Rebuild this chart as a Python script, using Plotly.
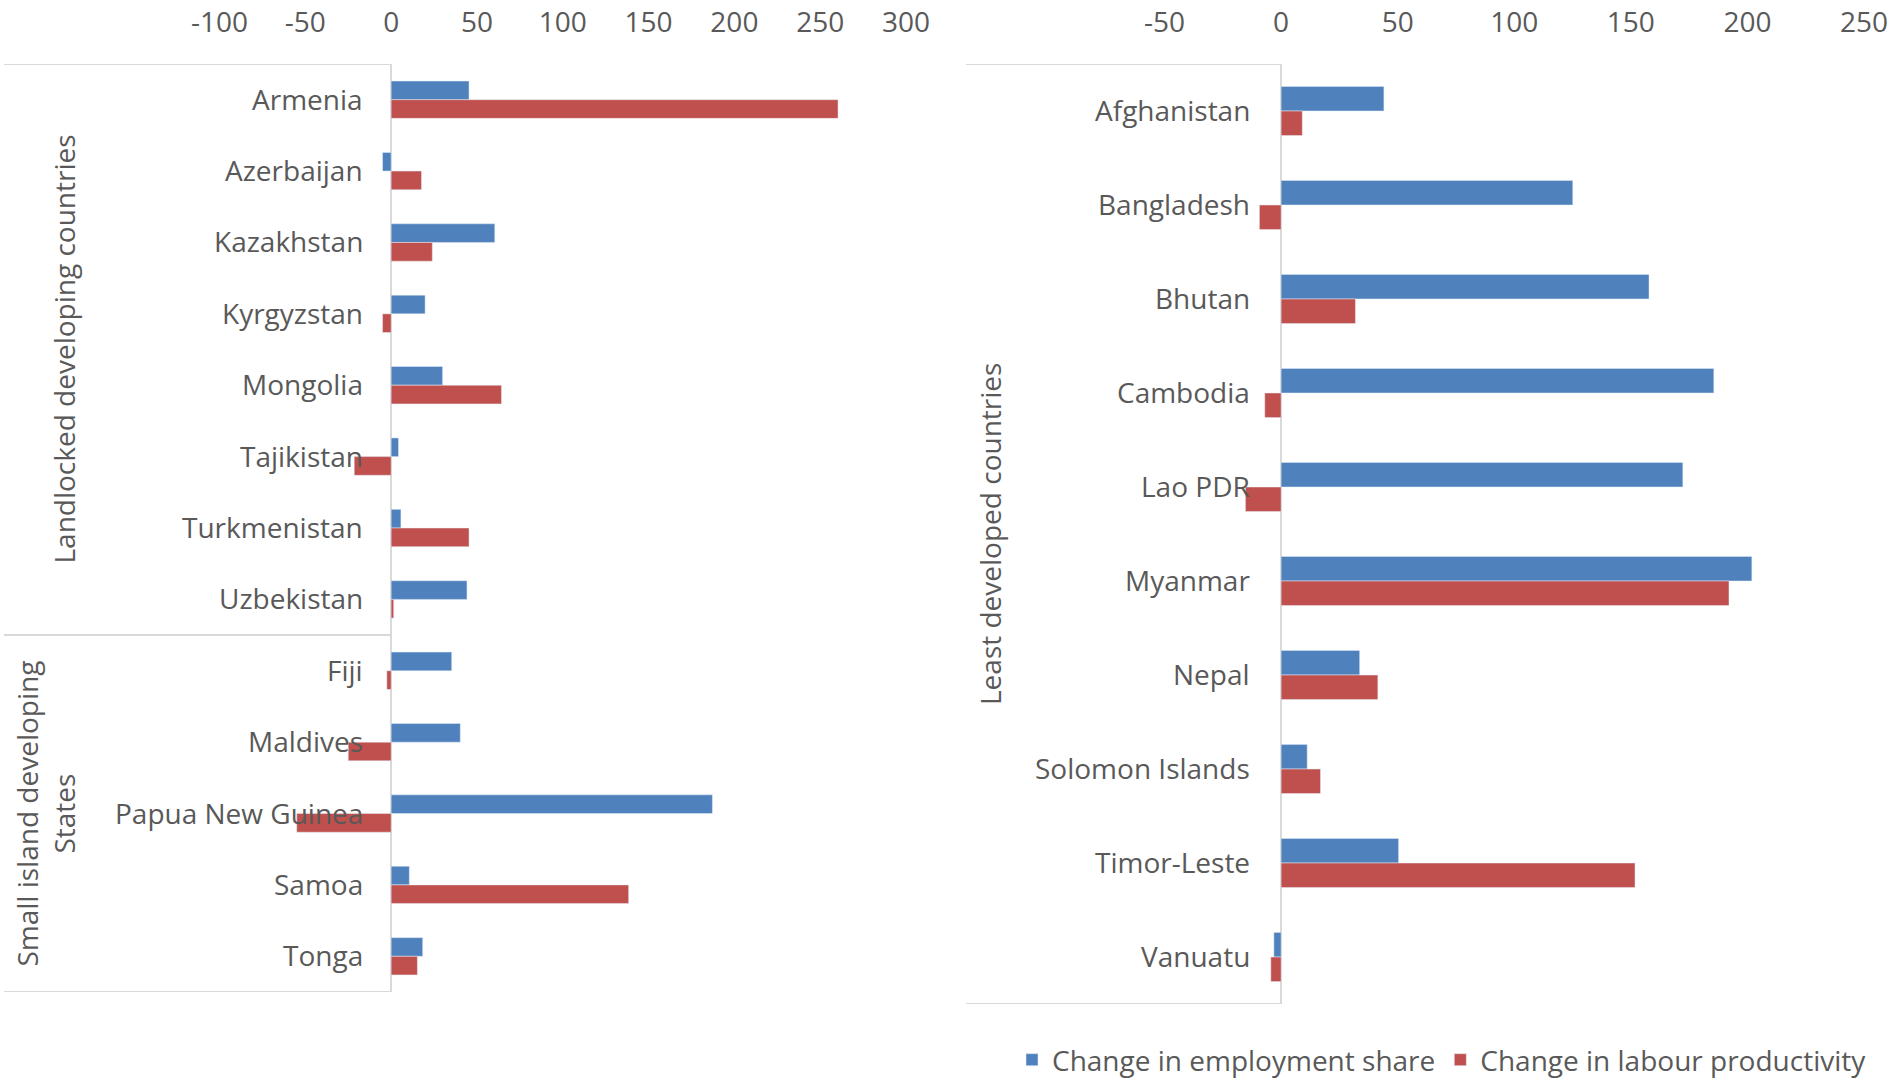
import plotly.graph_objects as go

# Landlocked developing countries and small island developing States
landlocked = ["Armenia", "Azerbaijan", "Kazakhstan", "Kyrgyzstan", "Mongolia",
              "Tajikistan", "Turkmenistan", "Uzbekistan"]
sids = ["Fiji", "Maldives", "Papua New Guinea", "Samoa", "Tonga"]
left_countries = landlocked + sids
left_employment = [45.4, -5.0, 60.4, 19.8, 30.0, 4.3, 5.7, 44.2,
                   35.3, 40.3, 187.2, 10.6, 18.4]
left_productivity = [260.4, 17.7, 24.0, -5.0, 64.3, -21.5, 45.4, 1.5,
                     -2.5, -25.0, -55.0, 138.4, 15.3]

# Least developed countries
ldc = ["Afghanistan", "Bangladesh", "Bhutan", "Cambodia", "Lao PDR", "Myanmar",
       "Nepal", "Solomon Islands", "Timor-Leste", "Vanuatu"]
ldc_employment = [44.1, 125.1, 157.8, 185.6, 172.3, 201.9, 33.7, 11.2, 50.4, -3.1]
ldc_productivity = [9.1, -9.3, 31.9, -7.0, -15.3, 192.1, 41.5, 16.9, 151.8, -4.4]

left_ticks = [-100, -50, 0, 50, 100, 150, 200, 250, 300]
left_tick_labels = ["-100", "-50", "0", "50", "100", "150", "200", "250", "300"]
right_ticks = [-50, 0, 50, 100, 150, 200, 250]
right_tick_labels = ["-50", "0", "50", "100", "150", "200", "250"]

series_names = ["Change in employment share", "Change in labour productivity"]
BLUE = "#4F81BD"
RED = "#C0504D"
TEXT = "#595959"
LINE = "#D9D9D9"
FONT = "Open Sans"

W, H = 1901, 1081
left_dom = [219.5 / W, 906 / W]
right_dom = [1164.5 / W, 1864 / W]
left_ydom = [1 - 992 / H, 1 - 64 / H]
right_ydom = [1 - 1004 / H, 1 - 64 / H]
left_range = [-100, 300]
right_range = [-50, 250]

fig = go.Figure()

bar_kw = dict(orientation="h")
fig.add_trace(go.Bar(y=left_countries, x=left_employment, name=series_names[0],
                     marker_color=BLUE, xaxis="x", yaxis="y", **bar_kw))
fig.add_trace(go.Bar(y=left_countries, x=left_productivity, name=series_names[1],
                     marker_color=RED, xaxis="x", yaxis="y", **bar_kw))
fig.add_trace(go.Bar(y=ldc, x=ldc_employment, name=series_names[0], showlegend=False,
                     marker_color=BLUE, xaxis="x2", yaxis="y2", **bar_kw))
fig.add_trace(go.Bar(y=ldc, x=ldc_productivity, name=series_names[1], showlegend=False,
                     marker_color=RED, xaxis="x2", yaxis="y2", **bar_kw))

xaxis_common = dict(side="top", showgrid=False, showline=False, zeroline=True,
                    zerolinecolor=LINE, zerolinewidth=2,
                    ticks="outside", ticklen=20, tickcolor="rgba(0,0,0,0)",
                    tickfont=dict(family=FONT, size=28, color=TEXT),
                    fixedrange=True)
yaxis_common = dict(showticklabels=False, showgrid=False, showline=False,
                    zeroline=False, ticks="", autorange=False, fixedrange=True)

fig.update_layout(
    width=W, height=H, autosize=False,
    margin=dict(l=0, r=0, t=0, b=0, autoexpand=False),
    paper_bgcolor="white", plot_bgcolor="white",
    barmode="group", bargap=0.477, bargroupgap=0,
    font=dict(family=FONT, color=TEXT, size=28),
    xaxis=dict(domain=left_dom, range=left_range, tickvals=left_ticks,
               ticktext=left_tick_labels, anchor="y", **xaxis_common),
    yaxis=dict(domain=left_ydom, range=[len(left_countries) - 0.5, -0.5],
               anchor="x", type="category", categoryarray=left_countries,
               **yaxis_common),
    xaxis2=dict(domain=right_dom, range=right_range, tickvals=right_ticks,
                ticktext=right_tick_labels, anchor="y2", **xaxis_common),
    yaxis2=dict(domain=right_ydom, range=[len(ldc) - 0.5, -0.5],
                anchor="x2", type="category", categoryarray=ldc,
                **yaxis_common),
    legend=dict(orientation="h", x=1012 / W, xanchor="left",
                y=1 - 1060 / H, yanchor="middle",
                font=dict(family=FONT, size=28, color=TEXT),
                bgcolor="rgba(0,0,0,0)", traceorder="normal"),
)


def zero_paper(dom, rng):
    """Paper x coordinate of the value 0 on an axis."""
    return dom[0] + (0 - rng[0]) / (rng[1] - rng[0]) * (dom[1] - dom[0])


annotations = []
shapes = []

# Category labels sit just left of the zero line
for name in left_countries:
    annotations.append(dict(x=0, y=name, xref="x", yref="y", text=name,
                            xanchor="right", yanchor="middle", xshift=-26,
                            yshift=1, showarrow=False,
                            font=dict(family=FONT, size=28, color=TEXT)))
for name in ldc:
    annotations.append(dict(x=0, y=name, xref="x2", yref="y2", text=name,
                            xanchor="right", yanchor="middle", xshift=-29,
                            yshift=1, showarrow=False,
                            font=dict(family=FONT, size=28, color=TEXT)))

# Group labels (rotated)
annotations.append(dict(x=64 / W, y=(len(landlocked) - 1) / 2, xref="paper", yref="y",
                        text="Landlocked developing countries", textangle=-90,
                        xanchor="center", yanchor="middle", showarrow=False,
                        font=dict(family=FONT, size=28, color=TEXT)))
annotations.append(dict(x=45 / W, y=len(landlocked) + (len(sids) - 1) / 2,
                        xref="paper", yref="y",
                        text="Small island developing<br>States", textangle=-90,
                        xanchor="center", yanchor="middle", showarrow=False,
                        align="center",
                        font=dict(family=FONT, size=28, color=TEXT)))
annotations.append(dict(x=990 / W, y=(len(ldc) - 1) / 2, xref="paper", yref="y2",
                        text="Least developed countries", textangle=-90,
                        xanchor="center", yanchor="middle", showarrow=False,
                        font=dict(family=FONT, size=28, color=TEXT)))

# Category-axis box lines
left_zero = zero_paper(left_dom, left_range)
for yv in [-0.5, len(landlocked) - 0.5, len(left_countries) - 0.5]:
    shapes.append(dict(type="line", xref="paper", yref="y",
                       x0=4 / W, x1=left_zero, y0=yv, y1=yv,
                       line=dict(color=LINE, width=2)))
right_zero = zero_paper(right_dom, right_range)
for yv in [-0.5, len(ldc) - 0.5]:
    shapes.append(dict(type="line", xref="paper", yref="y2",
                       x0=966 / W, x1=right_zero, y0=yv, y1=yv,
                       line=dict(color=LINE, width=2)))

fig.update_layout(annotations=annotations, shapes=shapes)

fig.write_html("out.html")
